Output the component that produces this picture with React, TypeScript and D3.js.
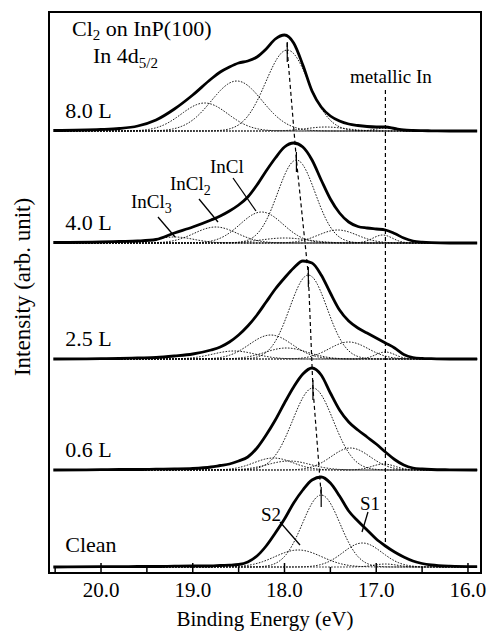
import React from 'react';
import * as d3 from 'd3';

// binding energy grid of the measured spectra (eV)
const energies = [20.52, 20.0, 19.8, 19.6, 19.4, 19.2, 19.0, 18.8, 18.7, 18.6, 18.5, 18.4, 18.3, 18.2, 18.1, 18.0,
  17.9, 17.8, 17.7, 17.6, 17.5, 17.4, 17.3, 17.2, 17.1, 17.0, 16.9, 16.8, 16.7, 16.6, 16.5, 16.4, 16.2, 15.9];

const exposures = ['Clean', '0.6 L', '2.5 L', '4.0 L', '8.0 L'];
// vertical offset of each spectrum (arb. unit)
const offsets = [6, 103, 214, 330, 442];

const specClean = [0, 0.3, 0.3, 0.5, 0.5, 0.8, 1, 1, 1.5, 1.8, 2.5, 5, 11, 21, 34, 48,
  64, 77, 87, 90, 84, 71, 56, 46, 37, 28, 21, 15, 10, 6, 3.5, 2, 0.8, 0.3];
const spec06 = [0, 0.3, 0.5, 0.5, 0.8, 1, 1.5, 3, 4.5, 6, 9, 13, 22, 35, 50, 67,
  83, 96, 102, 95, 77, 60, 48, 40, 33, 26, 18, 10.5, 5, 2, 1, 0.5, 0.2, 0];
const spec25 = [0, 0.3, 0.5, 1, 1.5, 3, 5, 9, 12, 17, 24, 33, 44, 57, 70, 81,
  91, 98, 96, 84, 66, 49, 38, 31, 26, 21, 16, 11, 4.5, 1.5, 0.6, 0.3, 0, 0];
const spec40 = [0.5, 1, 1.5, 2, 3.5, 10, 16, 23, 27, 32, 38, 46, 58, 72, 85, 96,
  100, 96, 83, 63, 44, 30, 21, 16.5, 15, 14, 13, 9.5, 5, 2, 0.8, 0.3, 0, 0];
const spec80 = [0.5, 1.5, 2.5, 5, 11, 22, 36, 52, 59, 64, 68, 70, 74, 82, 92, 96,
  88, 66, 40, 24, 15, 10, 7, 5.5, 4.5, 4, 4, 2.5, 1, 0.5, 0.3, 0.2, 0, 0];

// fitted components: [centre eV, height, FWHM eV]; first entry is the main In 4d5/2 peak
const peaksClean = [[17.6, 72, 0.48], [17.85, 17, 0.6], [17.15, 24, 0.5], [16.9, 3, 0.3]];
const peaks06 = [[17.69, 82, 0.52], [18.12, 12, 0.5], [17.95, 9, 0.55], [17.28, 22, 0.5], [16.92, 6, 0.3]];
const peaks25 = [[17.74, 84, 0.48], [18.55, 8, 0.55], [18.15, 24, 0.55], [17.98, 11, 0.55], [17.3, 17, 0.5], [16.9, 7, 0.25]];
const peaks40 = [[17.87, 83, 0.48], [19.2, 6, 0.5], [18.75, 16, 0.55], [18.25, 31, 0.55], [18.0, 5, 0.6], [17.42, 13, 0.5], [16.93, 8, 0.25]];
const peaks80 = [[17.97, 81, 0.55], [18.87, 28, 0.6], [18.52, 50, 0.65], [17.55, 4, 0.5], [16.9, 3, 0.25]];

const spectra = [specClean, spec06, spec25, spec40, spec80];
const peaks = [peaksClean, peaks06, peaks25, peaks40, peaks80];

const metallicEnergy = 16.9;

// component labels: panel, text, subscript, text pos [eV, h], line from/to [eV, h]
const labels = [
  { panel: 3, text: 'InCl', sub: '3', pos: [19.673, 35], from: [19.379, 26], to: [19.193, 6] },
  { panel: 3, text: 'InCl', sub: '2', pos: [19.248, 53], from: [18.932, 44], to: [18.725, 21] },
  { panel: 3, text: 'InCl', sub: '', pos: [18.812, 70], from: [18.561, 65], to: [18.311, 32] },
  { panel: 0, text: 'S2', sub: '', pos: [18.256, 46], from: [18.049, 45], to: [17.831, 22] },
  { panel: 0, text: 'S1', sub: '', pos: [17.177, 57], from: [17.09, 55], to: [17.155, 35] },
];

const W = 487;
const H = 631;
const font = '"Liberation Serif", "Times New Roman", serif';

const x = d3.scaleLinear().domain([20.567, 15.858]).range([49, 481]);
const y = d3.scaleLinear().domain([0, 561]).range([573, 12]);

const gauss = (e, [c, h, w]) => h * Math.exp((-4 * Math.LN2 * (e - c) * (e - c)) / (w * w));
const grid = d3.range(20.5, 15.89, -0.02);

export default function App() {
  const dataLine = (i) =>
    d3.line().x((d) => x(d[0])).y((d) => y(offsets[i] + d[1])).curve(d3.curveMonotoneX)(
      energies.map((e, k) => [e, spectra[i][k]]) as any
    );
  const compLine = (i, p) =>
    d3.line().x((d) => x(d[0])).y((d) => y(offsets[i] + d[1]))(grid.map((e) => [e, gauss(e, p)]) as any);

  const mains = peaks.map((ps, i) => [ps[0][0], offsets[i] + ps[0][1]]);
  const connector = d3.line().x((d) => x(d[0])).y((d) => y(d[1]))(
    [[mains[4][0], mains[4][1] + 7], ...mains.slice().reverse()] as any
  );

  const metalBottom = offsets[0] + spectra[0][energies.indexOf(metallicEnergy)];
  const metalTop = offsets[4] + 41;

  const ticks = x.ticks(10);

  return (
    <svg width={W} height={H} style={{ position: 'absolute', left: 0, top: 0, background: '#fff' }} fontFamily={font}>
      <rect x={49} y={12} width={432} height={561} fill="none" stroke="#000" strokeWidth={2} />

      {ticks.map((t) => {
        const major = Math.abs(t - Math.round(t)) < 1e-6;
        return (
          <g key={t}>
            <line x1={x(t)} x2={x(t)} y1={573} y2={573 - (major ? 10 : 6)} stroke="#000" strokeWidth={1.5} />
            {major && (
              <text x={x(t)} y={597} fontSize={21} textAnchor="middle">{d3.format('.1f')(t)}</text>
            )}
          </g>
        );
      })}
      <text x={265} y={626} fontSize={21} textAnchor="middle">Binding Energy (eV)</text>
      <text transform="translate(30,287) rotate(-90)" fontSize={23} textAnchor="middle">Intensity (arb. unit)</text>

      <text x={72} y={36} fontSize={22}>Cl<tspan fontSize={15} dy={4}>2</tspan><tspan dy={-4}> on InP(100)</tspan></text>
      <text x={93} y={63} fontSize={22}>In 4d<tspan fontSize={15} dy={5}>5/2</tspan></text>

      {peaks.map((ps, i) =>
        ps.map((p, j) => (
          <path key={`c${i}-${j}`} d={compLine(i, p)} fill="none" stroke="#000" strokeWidth={0.9} strokeDasharray="1.6,1.4" />
        ))
      )}

      {spectra.map((_, i) => (
        <path key={`s${i}`} d={dataLine(i)} fill="none" stroke="#000" strokeWidth={2.8} strokeLinejoin="round" />
      ))}

      {mains.map(([e, v], i) => (
        <line key={`m${i}`} x1={x(e)} x2={x(e)} y1={y(v) - 8} y2={y(v) + 12} stroke="#000" strokeWidth={1.2} />
      ))}
      <path d={connector} fill="none" stroke="#000" strokeWidth={1.2} strokeDasharray="4,3" />

      <line x1={x(metallicEnergy)} x2={x(metallicEnergy)} y1={y(metalTop)} y2={y(metalBottom)}
        stroke="#000" strokeWidth={1.2} strokeDasharray="4,3" />
      <text x={x(17.286)} y={y(offsets[4] + 48)} fontSize={19}>metallic In</text>

      {exposures.map((lab, i) => (
        <text key={lab} x={x(20.39)} y={y(offsets[i]) - (i === 0 ? 15 : 13)} fontSize={22}>{lab}</text>
      ))}

      {labels.map((l, k) => (
        <g key={`l${k}`}>
          <text x={x(l.pos[0])} y={y(offsets[l.panel] + l.pos[1])} fontSize={19}>
            {l.text}
            {l.sub && <tspan fontSize={14} dy={5}>{l.sub}</tspan>}
          </text>
          <line x1={x(l.from[0])} y1={y(offsets[l.panel] + l.from[1])} x2={x(l.to[0])} y2={y(offsets[l.panel] + l.to[1])}
            stroke="#000" strokeWidth={1.3} />
        </g>
      ))}
    </svg>
  );
}
